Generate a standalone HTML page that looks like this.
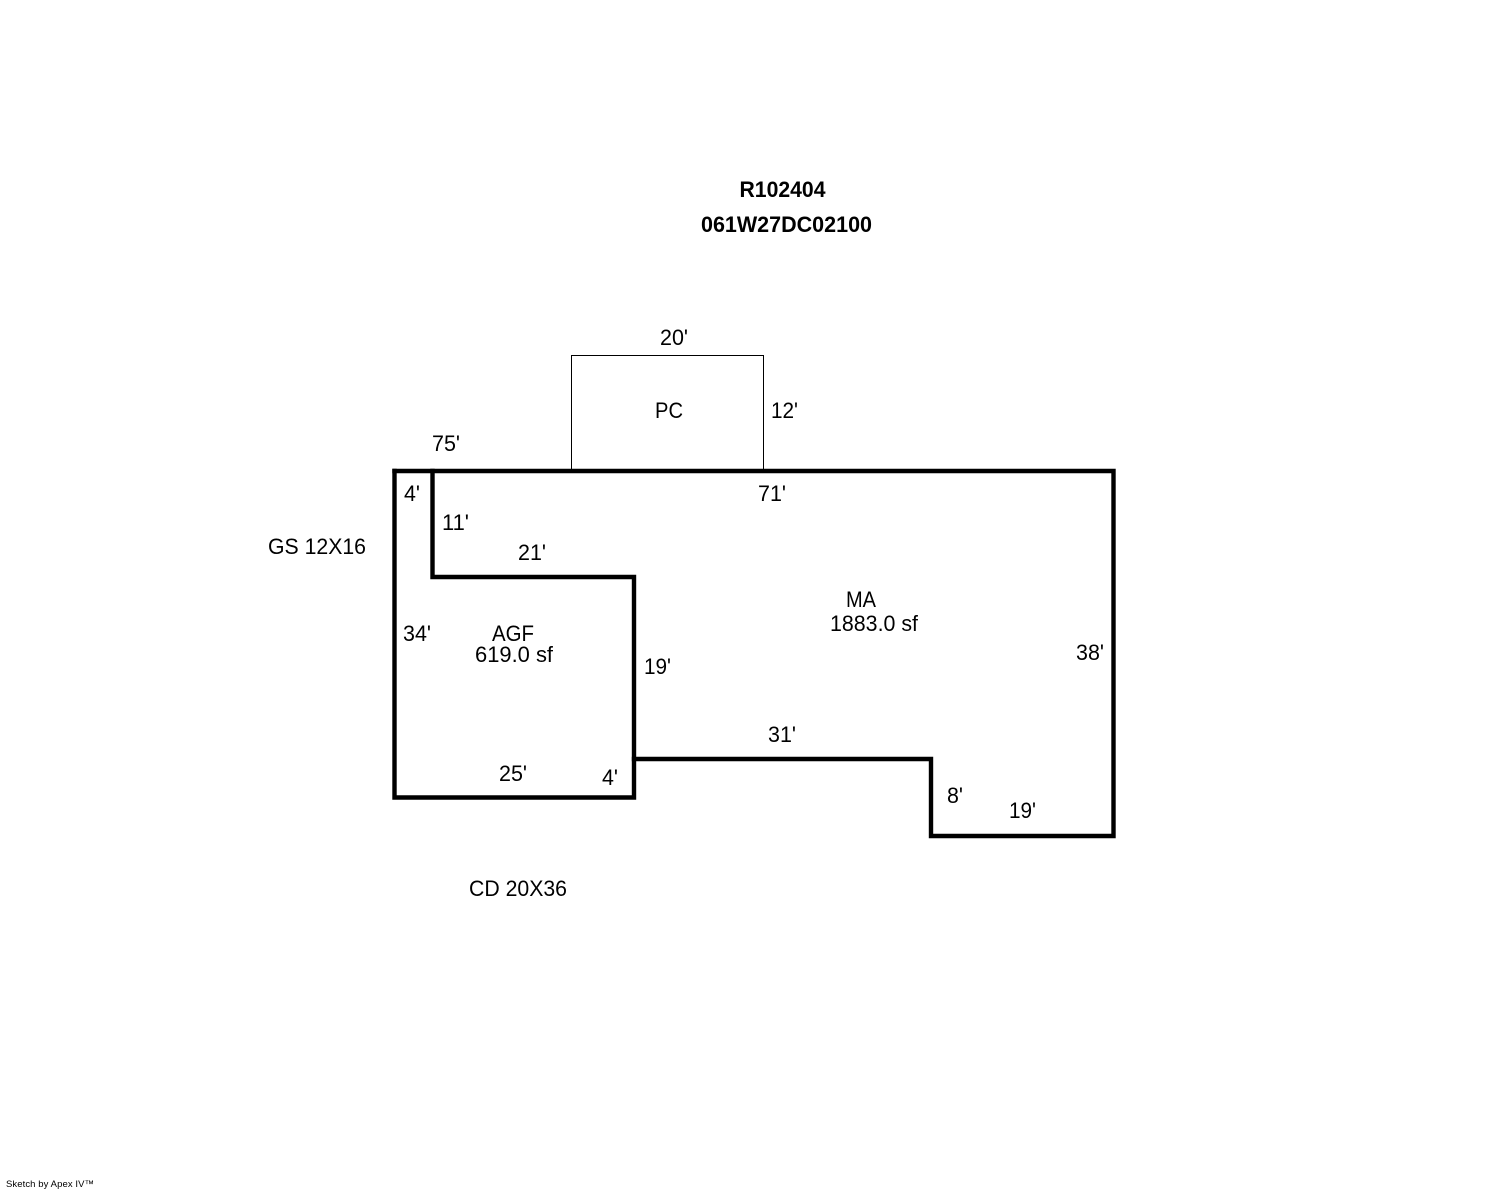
<!DOCTYPE html>
<html><head><meta charset="utf-8"><style>
html,body{margin:0;padding:0;background:#fff;width:1488px;height:1190px;overflow:hidden}
svg{display:block}
text{font-family:"Liberation Sans",Arial,sans-serif;font-size:22px;fill:#000}
.b{font-weight:bold}
</style></head><body>
<svg width="1488" height="1190" viewBox="0 0 1488 1190" xmlns="http://www.w3.org/2000/svg">
<rect width="1488" height="1190" fill="#fff"/>
<path d="M571.5 470V355.5H763.5V470" fill="none" stroke="#000" stroke-width="1" shape-rendering="crispEdges"/>
<g fill="none" stroke="#000" stroke-width="4.4" stroke-linecap="square" stroke-linejoin="miter">
<path d="M394.5 471H1113.5V836H931V759H634"/>
<path d="M394.5 471V797.5H634V577H432.5V471"/>
</g>
<text class="b" x="739.5" y="197" textLength="86" lengthAdjust="spacingAndGlyphs">R102404</text>
<text class="b" x="701" y="232" textLength="171" lengthAdjust="spacingAndGlyphs">061W27DC02100</text>
<text x="660" y="345" textLength="28" lengthAdjust="spacingAndGlyphs">20'</text>
<text x="655" y="418" textLength="28" lengthAdjust="spacingAndGlyphs">PC</text>
<text x="771" y="418" textLength="27" lengthAdjust="spacingAndGlyphs">12'</text>
<text x="432" y="451" textLength="28" lengthAdjust="spacingAndGlyphs">75'</text>
<text x="758" y="501" textLength="28" lengthAdjust="spacingAndGlyphs">71'</text>
<text x="404" y="501" textLength="16" lengthAdjust="spacingAndGlyphs">4'</text>
<text x="442" y="530" textLength="27" lengthAdjust="spacingAndGlyphs">11'</text>
<text x="518" y="560" textLength="28" lengthAdjust="spacingAndGlyphs">21'</text>
<text x="268" y="554" textLength="98" lengthAdjust="spacingAndGlyphs">GS 12X16</text>
<text x="846" y="607" textLength="30" lengthAdjust="spacingAndGlyphs">MA</text>
<text x="830" y="631" textLength="88" lengthAdjust="spacingAndGlyphs">1883.0 sf</text>
<text x="403" y="641" textLength="28" lengthAdjust="spacingAndGlyphs">34'</text>
<text x="492" y="641" textLength="42" lengthAdjust="spacingAndGlyphs">AGF</text>
<text x="475" y="662" textLength="78" lengthAdjust="spacingAndGlyphs">619.0 sf</text>
<text x="1076" y="660" textLength="28" lengthAdjust="spacingAndGlyphs">38'</text>
<text x="644" y="674" textLength="27" lengthAdjust="spacingAndGlyphs">19'</text>
<text x="768" y="742" textLength="28" lengthAdjust="spacingAndGlyphs">31'</text>
<text x="499" y="781" textLength="28" lengthAdjust="spacingAndGlyphs">25'</text>
<text x="602" y="785" textLength="16" lengthAdjust="spacingAndGlyphs">4'</text>
<text x="947" y="803" textLength="16" lengthAdjust="spacingAndGlyphs">8'</text>
<text x="1009" y="818" textLength="27" lengthAdjust="spacingAndGlyphs">19'</text>
<text x="469" y="896" textLength="98" lengthAdjust="spacingAndGlyphs">CD 20X36</text>
<text x="6" y="1187" style="font-size:9.5px" textLength="88" lengthAdjust="spacing">Sketch by Apex IV™</text>
</svg>
</body></html>
